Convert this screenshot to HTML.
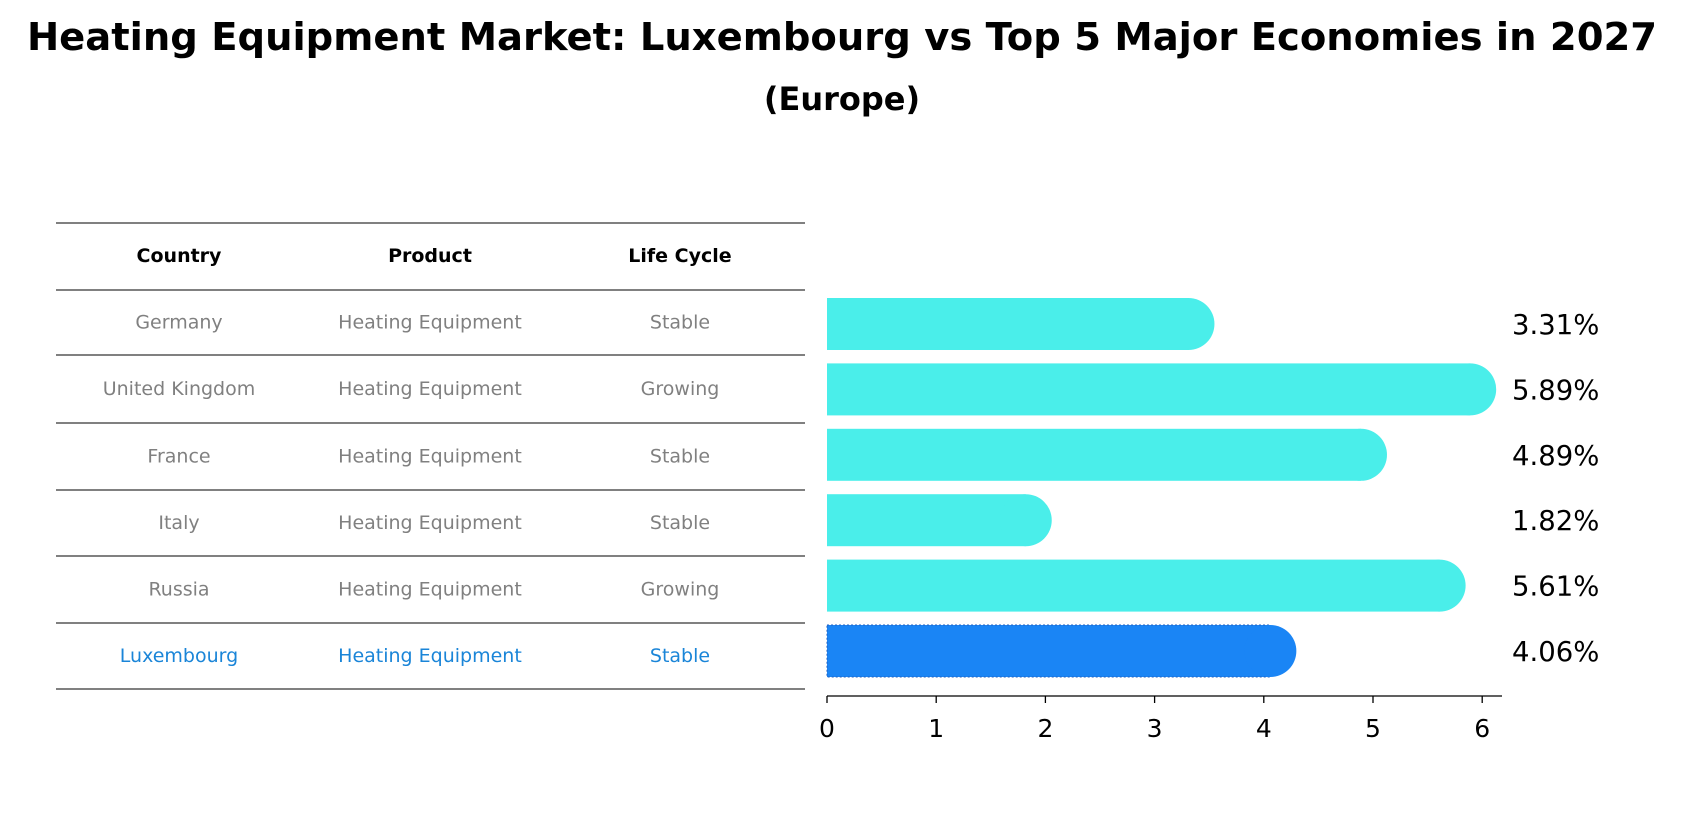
<!DOCTYPE html>
<html><head><meta charset="utf-8"><style>
body{margin:0;background:#fff;font-family:"Liberation Sans","DejaVu Sans",sans-serif}
svg text{font-family:"DejaVu Sans","Liberation Sans",sans-serif}
</style></head><body>
<svg id="c" width="1684" height="823" viewBox="0 0 1684 823" xmlns="http://www.w3.org/2000/svg">
<text x="842" y="50" text-anchor="middle" font-size="38.5" font-weight="bold">Heating Equipment Market: Luxembourg vs Top 5 Major Economies in 2027</text>
<text x="842" y="110" text-anchor="middle" font-size="32" font-weight="bold">(Europe)</text>
<g id="tbl"></g>
<g id="bars"></g>
</svg>
<script>
const countries=["Germany","United Kingdom","France","Italy","Russia","Luxembourg"];
const products=["Heating Equipment","Heating Equipment","Heating Equipment","Heating Equipment","Heating Equipment","Heating Equipment"];
const lifeCycles=["Stable","Growing","Stable","Stable","Growing","Stable"];
const values=[3.31,5.89,4.89,1.82,5.61,4.06];
const ticks=[0,1,2,3,4,5,6];
const NS="http://www.w3.org/2000/svg";
function mk(tag,attrs,parent,text){const e=document.createElementNS(NS,tag);for(const k in attrs)e.setAttribute(k,attrs[k]);if(text!==undefined)e.textContent=text;parent.appendChild(e);return e;}
const tbl=document.getElementById('tbl'),bars=document.getElementById('bars');
const lineYs=[223,290,355,423,490,556,623,689];
const colX=[179,430,680];
lineYs.forEach((y,i)=>{const l=mk('line',{x1:56,x2:805,y1:y,y2:y,stroke:'#000','stroke-width':1},tbl);

});
["Country","Product","Life Cycle"].forEach((h,j)=>{const t=mk('text',{x:colX[j],y:262,'text-anchor':'middle','font-size':19,'font-weight':'bold'},tbl,h);

});
const x0=827,ppu=109.2;
function xs(v){return x0+v*ppu;}
function yc(i){return 324+i*65.4;}
countries.forEach((c,i)=>{
 const last=i===countries.length-1;
 const col=last?'#1a85d8':'#808080';
 const rowY=(lineYs[i+1]+lineYs[i+2])/2+6;
 [c,products[i],lifeCycles[i]].forEach((v,j)=>{const t=mk('text',{x:colX[j],y:rowY,'text-anchor':'middle','font-size':19,fill:col},tbl,v);
 
 });
 const fill=last?'#1a85f5':'#4aeeea';
 const g=mk('g',{},bars);
 
 
 const y=yc(i),h=52,r=26;
 mk('rect',{x:x0,y:y-h/2,width:xs(values[i])-x0,height:h,fill:fill,stroke:last?'#2060c0':'none','stroke-dasharray':'2 2','stroke-width':1},g);
 mk('circle',{cx:xs(values[i]),cy:y,r:r,fill:fill},g);
 const t=mk('text',{x:1512,y:y+10,'font-size':27.5},bars,values[i].toFixed(2)+'%');
 
 
});
const ax=mk('line',{x1:x0,x2:1502,y1:696,y2:696,stroke:'#000','stroke-width':1.3},bars);


ticks.forEach(v=>{const l=mk('line',{x1:xs(v),x2:xs(v),y1:696,y2:703,stroke:'#000','stroke-width':1.3},bars);


const t=mk('text',{x:xs(v),y:737,'text-anchor':'middle','font-size':25},bars,String(v));

});
</script>
</body></html>
